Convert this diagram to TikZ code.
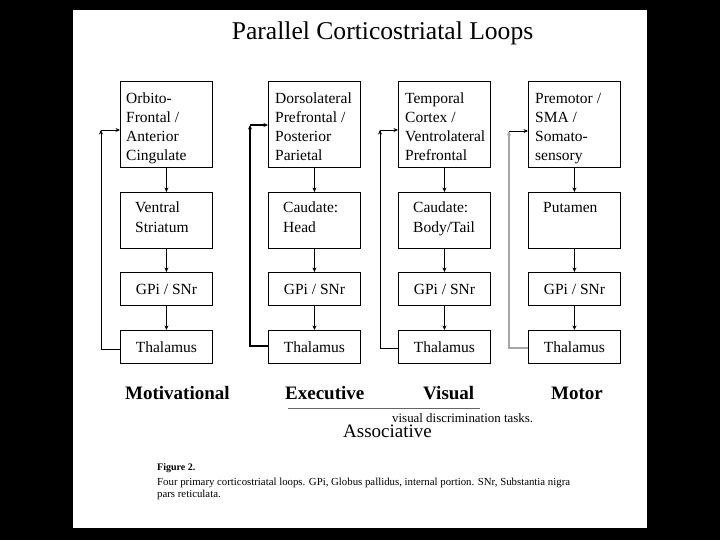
\documentclass[tikz,border=0pt]{standalone}
\usepackage{fontspec}
\setmainfont{Liberation Serif}
\usetikzlibrary{arrows.meta}
\begin{document}
\begin{tikzpicture}[x=1pt,y=-1pt,
  box/.style={draw=black, line width=0.9pt, minimum width=92pt, inner sep=0pt, anchor=north west,
              font=\fontsize{15.5}{19.3}\selectfont},
  txt/.style={font=\fontsize{15.5}{19.3}\selectfont, anchor=base west, align=left, inner sep=0pt},
  lab/.style={font=\bfseries\fontsize{19}{22}\selectfont, anchor=base west, inner sep=0pt},
  arr/.style={-{Stealth[length=4.5pt,width=4pt]}, line width=0.8pt},
  fb/.style={line width=0.8pt}]
\useasboundingbox (0,0) rectangle (720,540);
\fill[black] (0,0) rectangle (720,540);
\fill[white] (73,10) rectangle (647,528);

\node[anchor=base, inner sep=0pt, font=\fontsize{25.6}{30}\selectfont] (title) at (382.5,40) {Parallel Corticostriatal Loops};

% row 1 (multi-line text: base = last line)
\node[box, minimum height=86pt] (c1) at (120,81) {};
\node[box, minimum height=86pt] (c2) at (268,81) {};
\node[box, minimum height=86pt] (c3) at (398,81) {};
\node[box, minimum height=86pt] (c4) at (528,81) {};
\node[txt] (c1t) at (126,161) {Orbito-\\Frontal /\\Anterior\\Cingulate};
\node[txt] (c2t) at (275,161) {Dorsolateral\\Prefrontal /\\Posterior\\Parietal};
\node[txt] (c3t) at (405,161) {Temporal\\Cortex /\\Ventrolateral\\Prefrontal};
\node[txt] (c4t) at (535,161) {Premotor /\\SMA /\\Somato-\\sensory};

% row 2
\node[box, minimum height=56pt] (s1) at (120,192) {};
\node[box, minimum height=56pt] (s2) at (268,192) {};
\node[box, minimum height=56pt] (s3) at (398,192) {};
\node[box, minimum height=56pt] (s4) at (528,192) {};
\node[txt] (s1t) at (135,232.3) {Ventral\\Striatum};
\node[txt] (s2t) at (283,232.3) {Caudate:\\Head};
\node[txt] (s3t) at (413,232.3) {Caudate:\\Body/Tail};
\node[txt] (s4t) at (543,213) {Putamen};

% row 3
\node[box, minimum height=33pt] (g1) at (120,272) {GPi / SNr};
\node[box, minimum height=33pt] (g2) at (268,272) {GPi / SNr};
\node[box, minimum height=33pt] (g3) at (398,272) {GPi / SNr};
\node[box, minimum height=33pt] (g4) at (528,272) {GPi / SNr};

% row 4
\node[box, minimum height=33pt] (h1) at (120,330) {Thalamus};
\node[box, minimum height=33pt] (h2) at (268,330) {Thalamus};
\node[box, minimum height=33pt] (h3) at (398,330) {Thalamus};
\node[box, minimum height=33pt] (h4) at (528,330) {Thalamus};

% downward arrows
\foreach \i in {1,2,3,4}{
  \draw[arr] (c\i.south) -- (s\i.north);
  \draw[arr] (s\i.south) -- (g\i.north);
  \draw[arr] (g\i.south) -- (h\i.north);
}

% feedback loops
\coordinate (f1b) at (101,349); \coordinate (f1t) at (101,130);
\coordinate (f2b) at (250,346); \coordinate (f2t) at (250,125);
\coordinate (f3b) at (380,348); \coordinate (f3t) at (380,130);
\coordinate (f4b) at (509,348); \coordinate (f4t) at (509,131);

\draw[arr] (h1.west |- f1b) -- (f1b) -- (f1t);
\draw[arr] (f1t) -- (c1.west |- f1t);
\draw[arr, line width=1.5pt] (h2.west |- f2b) -- (f2b) -- (f2t);
\draw[arr, line width=1.5pt] (f2t) -- (c2.west |- f2t);
\draw[arr] (h3.west |- f3b) -- (f3b) -- (f3t);
\draw[arr] (f3t) -- (c3.west |- f3t);
\draw[arr, draw=black!35, line width=1.5pt] (h4.west |- f4b) -- (f4b) -- (f4t);
\draw[arr] (f4t) -- (c4.west |- f4t);

% labels
\node[lab] (lmot) at (125,399) {Motivational};
\node[lab] (lexe) at (285,399) {Executive};
\node[lab] (lvis) at (423,399) {Visual};
\node[lab] (lmtr) at (551,399) {Motor};
\draw[line width=0.7pt, black!60] (288,408) -- (480,408);
\node[anchor=base west, inner sep=0pt, font=\fontsize{12.9}{15}\selectfont] (vdt) at (392,422) {visual discrimination tasks.};
\node[anchor=base west, inner sep=0pt, font=\fontsize{19}{22}\selectfont] (assoc) at (343,437) {Associative};

% caption
\node[anchor=base west, inner sep=0pt, font=\bfseries\fontsize{10}{12}\selectfont] (fig) at (157,470) {Figure 2.};
\node[anchor=base west, inner sep=0pt, align=left, font=\fontsize{10.8}{12.5}\selectfont] (cap) at (157,497.5)
  {Four primary corticostriatal loops. GPi, Globus pallidus, internal portion. SNr, Substantia nigra\\pars reticulata.};
\end{tikzpicture}
\end{document}
